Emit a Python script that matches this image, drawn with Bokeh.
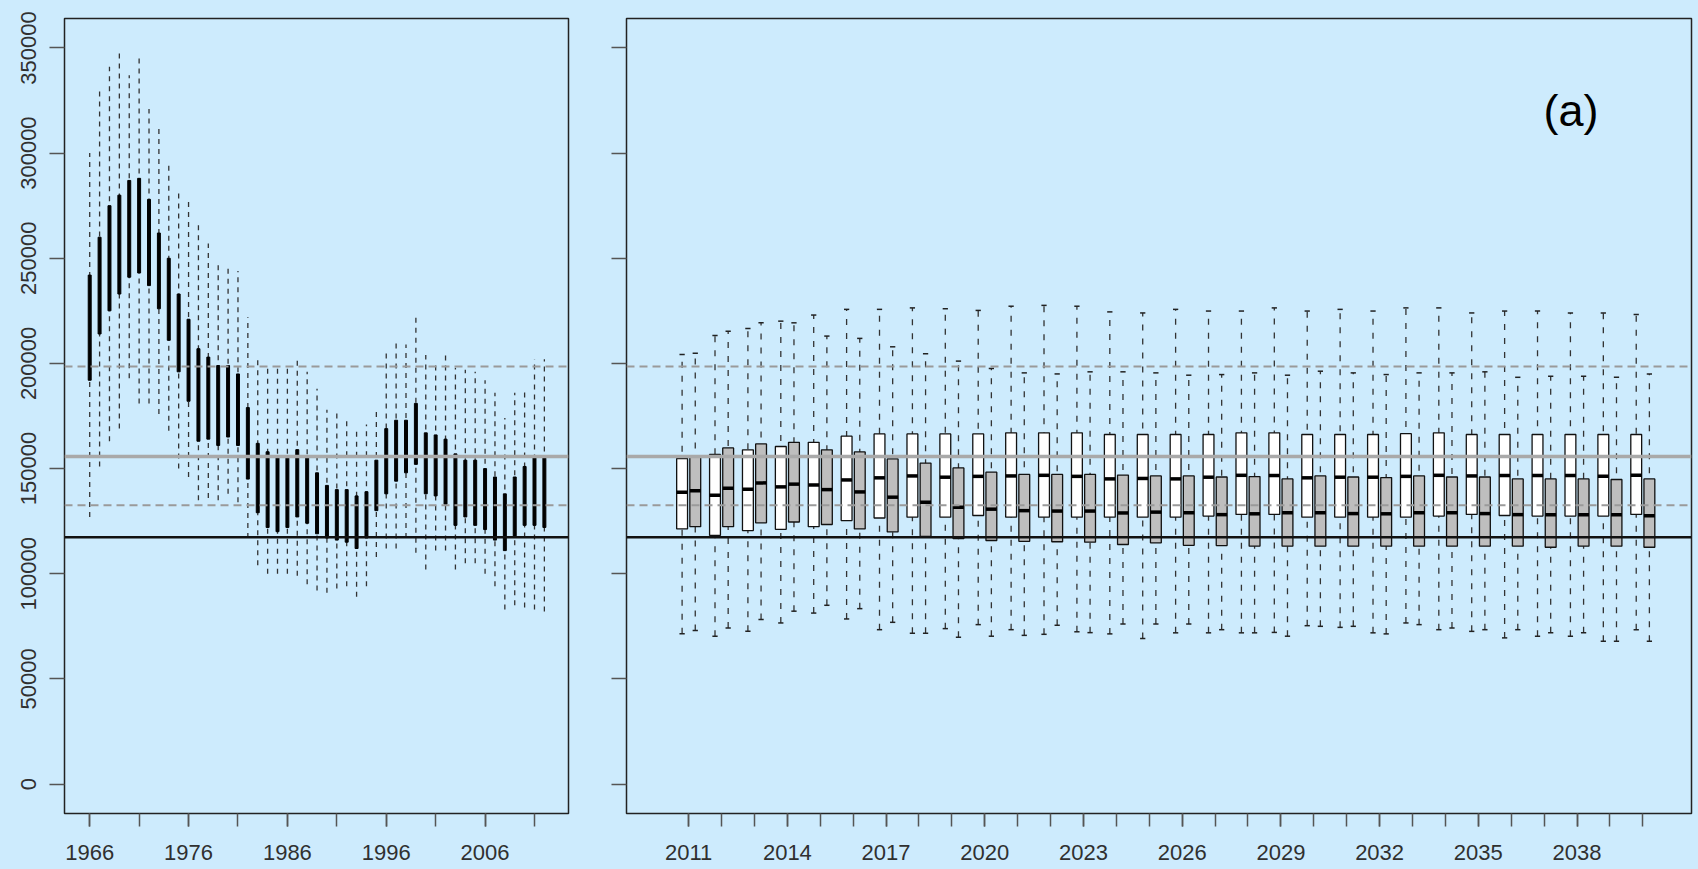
import numpy as np
from bokeh.plotting import figure
from bokeh.layouts import row
from bokeh.models import ColumnDataSource, Span, Label, FixedTicker, CustomJSTickFormatter, NumeralTickFormatter, Range1d
from bokeh.embed import file_html
from bokeh.resources import INLINE

# ---------------- data ----------------
hist_years = list(range(1966, 2013))
hist_max = [300, 330, 341, 349, 337, 347, 321, 312, 294, 283, 278, 267, 257, 249, 247, 244,
            222, 203, 199, 198, 199, 203, 196, 188, 178, 177, 174, 169, 171, 178, 205, 210,
            209, 222, 204, 201, 204, 198, 197, 196, 192, 186, 174, 186, 188, 202, 202]
hist_q3 = [242, 260, 275, 280, 287, 288, 278, 262, 250, 233, 221, 207, 203, 199, 199, 195,
           179, 162, 158, 156, 155, 159, 155, 148, 142, 140, 140, 137, 139, 154, 169, 173,
           173, 181, 167, 166, 164, 157, 154, 154, 150, 146, 138, 146, 151, 156, 155]
hist_q1 = [192, 214, 225, 233, 241, 243, 237, 226, 211, 196, 182, 163, 164, 161, 165, 161,
           145, 129, 122, 120, 122, 127, 124, 119, 117, 116, 115, 112, 117, 130, 138, 144,
           148, 152, 138, 137, 133, 123, 127, 123, 121, 116, 111, 118, 123, 123, 122]
hist_min = [127, 151, 163, 169, 193, 181, 181, 176, 168, 150, 146, 135, 136, 135, 138, 134,
            117, 104, 100, 100, 100, 99, 95, 92, 91, 93, 94, 89, 94, 108, 112, 112,
            117, 110, 102, 111, 111, 102, 105, 105, 100, 94, 83, 85, 84, 83, 82]

proj_years = list(range(2011, 2041))
a_min = [71.5, 70.3, 72.6, 76.6, 81.3, 78.5, 73.4, 71.7, 73.9, 75.8, 73.4, 71.2, 72.4, 71.4, 69.2,
         71.9, 71.9, 71.9, 72.1, 75.3, 74.5, 71.9, 76.6, 73.4, 72.6, 69.5, 70.3, 70.3, 67.9, 73.4]
a_q1 = [121.3, 118.2, 120.5, 121.1, 122.4, 125.3, 126.5, 126.9, 126.9, 127.7, 126.9, 126.9, 126.9, 126.9, 126.9,
        126.9, 127.4, 128.2, 128.2, 126.9, 126.9, 126.9, 126.9, 127.4, 128.2, 127.7, 127.4, 127.4, 127.4, 128.2]
a_med = [138.8, 137.3, 140.2, 141.3, 142.2, 144.6, 145.6, 146.5, 145.9, 146.3, 146.5, 146.8, 146.3, 145.1, 145.3,
         145.1, 145.9, 146.8, 146.7, 145.6, 145.9, 145.9, 146.3, 146.8, 146.5, 146.7, 146.7, 146.7, 146.3, 146.8]
a_q3 = [154.8, 156.7, 158.9, 160.5, 162.5, 165.4, 166.5, 166.5, 166.5, 166.5, 167.0, 167.0, 167.0, 166.2, 166.2,
        166.2, 166.2, 167.0, 167.0, 166.2, 166.2, 166.2, 166.6, 167.0, 166.2, 166.2, 166.2, 166.2, 166.2, 166.2]
a_max = [204.3, 213.3, 216.6, 220.1, 223.0, 225.7, 225.7, 226.4, 226.0, 225.2, 227.2, 227.6, 227.2, 224.5, 224.0,
         225.7, 224.9, 224.9, 226.4, 224.9, 225.7, 224.9, 226.4, 226.4, 224.0, 224.9, 224.9, 224.0, 224.0, 223.3]

b_min = [73.0, 74.2, 78.2, 82.2, 85.0, 83.4, 76.9, 71.7, 69.8, 70.3, 70.7, 75.5, 72.0, 76.1, 76.1,
         76.1, 73.4, 71.9, 70.3, 75.0, 75.0, 71.4, 75.8, 74.2, 73.4, 73.4, 71.9, 71.9, 67.9, 67.9]
b_q1 = [122.4, 122.4, 124.2, 124.6, 123.4, 121.3, 119.9, 117.8, 116.7, 115.8, 115.4, 115.2, 115.0, 113.9, 114.7,
        113.5, 113.4, 113.1, 113.1, 113.1, 113.1, 113.1, 113.1, 113.1, 113.1, 113.1, 112.6, 113.1, 113.1, 112.6]
b_med = [139.4, 140.7, 143.2, 142.6, 140.0, 138.9, 136.4, 134.0, 131.6, 130.7, 130.0, 129.8, 129.8, 128.9, 129.3,
         129.0, 128.1, 128.5, 129.0, 129.0, 128.6, 128.5, 129.0, 129.0, 128.6, 128.1, 128.1, 128.1, 128.1, 127.6]
b_q3 = [156.2, 159.8, 161.7, 162.5, 158.9, 157.9, 154.6, 152.6, 150.3, 148.3, 147.2, 147.2, 147.2, 146.9, 146.5,
        146.5, 146.0, 146.2, 145.1, 146.5, 146.0, 145.7, 146.5, 146.0, 146.0, 145.1, 145.1, 145.1, 144.8, 145.1]
b_max = [204.8, 215.3, 219.3, 219.3, 213.0, 211.9, 207.9, 204.6, 201.1, 197.6, 195.5, 195.0, 196.0, 196.0, 195.5,
         194.4, 194.7, 195.5, 194.4, 196.3, 195.5, 194.7, 195.5, 195.5, 196.0, 193.4, 193.9, 193.9, 193.4, 195.0]

ref_gray_solid = 155700
ref_gray_dashed = [198500, 132600]
ref_black = 117400

y_ticks = [0, 50000, 100000, 150000, 200000, 250000, 300000, 350000]
hist_label_years = [1966, 1976, 1986, 1996, 2006]
hist_tick_years = list(range(1966, 2013, 5))
proj_label_years = list(range(2011, 2040, 3))
panel_label = "(a)"

# ---------------- styling ----------------
BG = "#cdebfd"
FONT = "Liberation Sans"
TXT = "#303030"
TICK = "#555555"
Y_RANGE = (-14000, 364000)


def k(v):
    return [x * 1000 for x in v]


def style(p, label_y=True):
    p.background_fill_color = BG
    p.border_fill_color = BG
    p.outline_line_color = "#222222"
    p.outline_line_width = 1.5
    p.xgrid.visible = False
    p.ygrid.visible = False
    for ax in (p.xaxis[0], p.yaxis[0]):
        ax.axis_line_color = None
        ax.major_tick_in = 0
        ax.minor_tick_in = 0
        ax.major_tick_line_color = TICK
        ax.minor_tick_line_color = TICK
        ax.major_tick_line_width = 1.5
        ax.minor_tick_line_width = 1.5
        ax.major_label_text_font = FONT
        ax.major_label_text_color = TXT
        ax.major_label_text_font_size = "22px"
    p.xaxis.major_tick_out = 13
    p.xaxis.minor_tick_out = 13
    p.xaxis.major_label_standoff = 18
    p.yaxis.major_tick_out = 15
    p.yaxis.minor_tick_out = 0
    p.yaxis.ticker = FixedTicker(ticks=y_ticks)
    if label_y:
        p.yaxis.formatter = NumeralTickFormatter(format="0")
        p.yaxis.major_label_orientation = "vertical"
        p.yaxis.major_label_standoff = 13
    else:
        p.yaxis.formatter = CustomJSTickFormatter(code="return ''")


def add_refs(p):
    p.add_layout(Span(location=ref_gray_solid, dimension="width", line_color="#a9a9a9",
                      line_width=3.5))
    for loc in ref_gray_dashed:
        p.add_layout(Span(location=loc, dimension="width", line_color="#9a9a9a",
                          line_width=2, line_dash="8 5"))
    p.add_layout(Span(location=ref_black, dimension="width", line_color="#111111",
                      line_width=2.5))


# ---------------- left panel ----------------
hx = np.array(hist_years, dtype=float)
p1 = figure(frame_width=504, frame_height=795, output_backend="svg", toolbar_location=None,
            x_range=Range1d(1963.45, 2014.44), y_range=Range1d(*Y_RANGE),
            min_border_left=64, min_border_right=20, min_border_top=18, min_border_bottom=51)
style(p1, True)
p1.xaxis.ticker = FixedTicker(ticks=hist_label_years, minor_ticks=hist_tick_years)

hsrc = ColumnDataSource(dict(x=hx, mn=k(hist_min), mx=k(hist_max), q1=k(hist_q1), q3=k(hist_q3)))
p1.segment(x0="x", y0="mn", x1="x", y1="mx", source=hsrc, line_color="#333333",
           line_width=1.3, line_dash="5 5")
p1.vbar(x="x", width=0.3, bottom="q1", top="q3", source=hsrc, fill_color="black",
        line_color="black", line_width=1)
add_refs(p1)

# ---------------- right panel ----------------
px = np.array(proj_years, dtype=float)
p2 = figure(frame_width=1065, frame_height=795, output_backend="svg", toolbar_location=None,
            x_range=Range1d(2009.11, 2041.48), y_range=Range1d(*Y_RANGE),
            min_border_left=38, min_border_right=5, min_border_top=18, min_border_bottom=51)
style(p2, False)
p2.xaxis.ticker = FixedTicker(ticks=proj_label_years, minor_ticks=proj_years)

BW = 0.33
SW = 0.08
for off, mn, q1, md, q3, mx, fill in [(-0.2, a_min, a_q1, a_med, a_q3, a_max, "white"),
                                        (0.2, b_min, b_q1, b_med, b_q3, b_max, "#bebebe")]:
    x = px + off
    src = ColumnDataSource(dict(x=x, xl=x - SW, xr=x + SW, bl=x - BW / 2, br=x + BW / 2,
                                mn=k(mn), q1=k(q1), md=k(md), q3=k(q3), mx=k(mx)))
    p2.segment(x0="x", y0="mn", x1="x", y1="mx", source=src, line_color="#333333",
               line_width=1.3, line_dash="6 8")
    p2.segment(x0="xl", y0="mn", x1="xr", y1="mn", source=src, line_color="#222222", line_width=1.5)
    p2.segment(x0="xl", y0="mx", x1="xr", y1="mx", source=src, line_color="#222222", line_width=1.5)
    p2.vbar(x="x", width=BW, bottom="q1", top="q3", source=src, fill_color=fill,
            line_color="#111111", line_width=1.3)
    p2.segment(x0="bl", y0="md", x1="br", y1="md", source=src, line_color="black", line_width=3.5)

add_refs(p2)
p2.add_layout(Label(x=2037.82, y=320250, text=panel_label, text_font=FONT, text_font_size="45px",
                    text_align="center", text_baseline="middle", text_color="black"))

layout = row(p1, p2, spacing=0)
html = file_html(layout, INLINE, title="chart")
html = html.replace("</head>", "<style>html,body{background:%s;overflow:hidden;}</style></head>" % BG, 1)
open("out.html", "w").write(html)
